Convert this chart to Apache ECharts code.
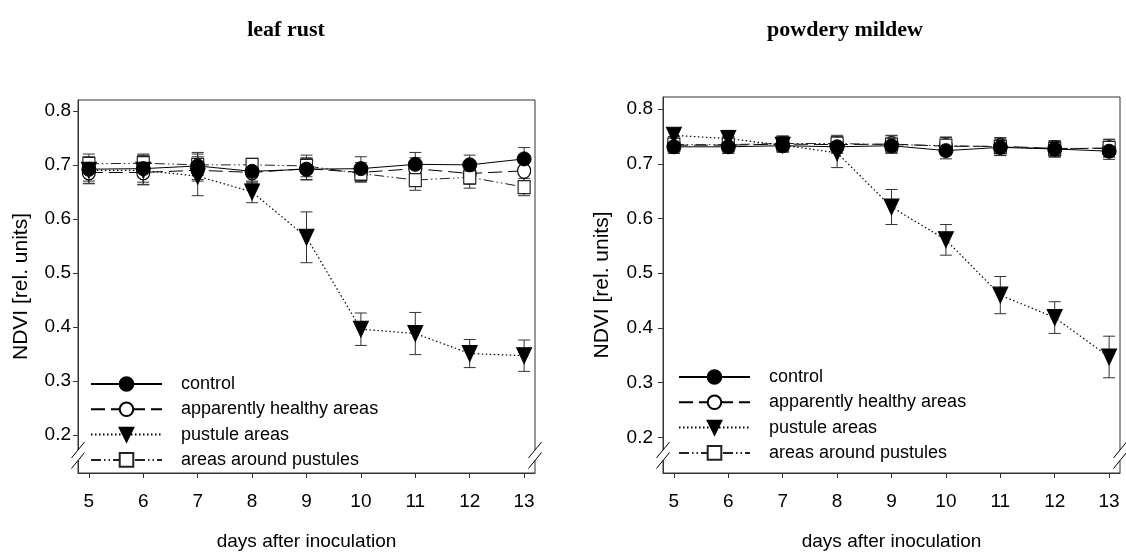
<!DOCTYPE html>
<html><head><meta charset="utf-8">
<script src="https://cdn.jsdelivr.net/npm/echarts@6/dist/echarts.min.js"></script>
<style>html,body{margin:0;padding:0;background:#fff}#c{width:1126px;height:556px}</style>
</head><body><div id="c"></div>
<script>
// ---------- data ----------
const days = [5, 6, 7, 8, 9, 10, 11, 12, 13];
const yTicks = [0.2, 0.3, 0.4, 0.5, 0.6, 0.7, 0.8];
const panelTitles = ['leaf rust', 'powdery mildew'];
const seriesNames = ['control', 'apparently healthy areas', 'pustule areas', 'areas around pustules'];
const xAxisTitle = 'days after inoculation';
const yAxisTitle = 'NDVI [rel. units]';

// leaf rust
const lrControl    = [0.692, 0.693, 0.698, 0.688, 0.692, 0.693, 0.701, 0.700, 0.711];
const lrControlErr = [0.022, 0.025, 0.025, 0.020, 0.020, 0.022, 0.022, 0.018, 0.021];
const lrHealthy    = [0.686, 0.686, 0.690, 0.686, 0.693, 0.686, 0.693, 0.684, 0.689];
const lrHealthyErr = [0.020, 0.022, 0.020, 0.020, 0.020, 0.018, 0.020, 0.020, 0.020];
const lrPustule    = [0.690, 0.690, 0.679, 0.650, 0.566, 0.396, 0.388, 0.351, 0.347];
const lrPustuleErr = [0.025, 0.027, 0.036, 0.020, 0.047, 0.030, 0.039, 0.026, 0.029];
const lrAround     = [0.702, 0.703, 0.700, 0.700, 0.698, 0.684, 0.672, 0.677, 0.659];
const lrAroundErr  = [0.018, 0.017, 0.020, 0.012, 0.020, 0.015, 0.019, 0.020, 0.016];

// powdery mildew
const pmControl    = [0.731, 0.731, 0.733, 0.731, 0.733, 0.724, 0.730, 0.727, 0.723];
const pmControlErr = [0.012, 0.012, 0.012, 0.012, 0.012, 0.015, 0.015, 0.015, 0.015];
const pmHealthy    = [0.734, 0.734, 0.736, 0.735, 0.736, 0.732, 0.732, 0.728, 0.728];
const pmHealthyErr = [0.015, 0.015, 0.014, 0.015, 0.016, 0.016, 0.016, 0.014, 0.016];
const pmPustule    = [0.752, 0.746, 0.734, 0.720, 0.621, 0.561, 0.460, 0.419, 0.347];
const pmPustuleErr = [0.010, 0.015, 0.012, 0.027, 0.032, 0.028, 0.034, 0.029, 0.038];
const pmAround     = [0.735, 0.735, 0.737, 0.737, 0.735, 0.733, 0.731, 0.727, 0.729];
const pmAroundErr  = [0.015, 0.015, 0.014, 0.015, 0.016, 0.016, 0.016, 0.014, 0.016];

const panels = [
  { vals: [lrControl, lrHealthy, lrPustule, lrAround], errs: [lrControlErr, lrHealthyErr, lrPustuleErr, lrAroundErr], yMin: 0.13, yMax: 0.82 },
  { vals: [pmControl, pmHealthy, pmPustule, pmAround], errs: [pmControlErr, pmHealthyErr, pmPustuleErr, pmAroundErr], yMin: 0.135, yMax: 0.822 }
];
const xMin = 4.8, xMax = 13.2;

// ---------- styles ----------
const FONT = 'Liberation Sans, Arial, sans-serif';
const styles = [
  { symbol: 'circle', symbolSize: 14, symbolRotate: 0, itemStyle: { color: '#000', borderColor: '#000', borderWidth: 1 }, lineStyle: { color: '#000', width: 1, type: 'solid' } },
  { symbol: 'circle', symbolSize: [13, 15], symbolRotate: 0, itemStyle: { color: '#fff', borderColor: '#000', borderWidth: 1.2 }, lineStyle: { color: '#000', width: 1, type: [14, 6] } },
  { symbol: 'triangle', symbolSize: [15, 16], symbolRotate: 180, itemStyle: { color: '#000', borderColor: '#000', borderWidth: 1 }, lineStyle: { color: '#000', width: 1.2, type: [1.5, 2.5] } },
  { symbol: 'rect', symbolSize: [12, 13], symbolRotate: 0, itemStyle: { color: '#fff', borderColor: '#222', borderWidth: 1.2 }, lineStyle: { color: '#222', width: 1, type: [10, 3, 1.5, 3, 1.5, 3] } }
];
const drawOrder = [1, 3, 2, 0];

const grids = [
  { left: 78, top: 100, width: 457, height: 378 },
  { left: 663, top: 97, width: 457, height: 380 }
];

function errRender(params, api) {
  const x = api.value(0), lo = api.value(1), hi = api.value(2);
  const a = api.coord([x, lo]), b = api.coord([x, hi]);
  const w = 6;
  const st = { stroke: '#333', lineWidth: 1 };
  return { type: 'group', children: [
    { type: 'line', shape: { x1: a[0], y1: a[1], x2: b[0], y2: b[1] }, style: st },
    { type: 'line', shape: { x1: a[0] - w, y1: a[1], x2: a[0] + w, y2: a[1] }, style: st },
    { type: 'line', shape: { x1: b[0] - w, y1: b[1], x2: b[0] + w, y2: b[1] }, style: st }
  ]};
}

const xAxes = [], yAxes = [], series = [], legends = [];
panels.forEach((p, gi) => {
  xAxes.push({
    gridIndex: gi, type: 'value', min: xMin, max: xMax,
    name: xAxisTitle, nameLocation: 'middle', nameGap: 59,
    nameTextStyle: { fontFamily: FONT, fontSize: 19, color: '#000' },
    axisLine: { show: true, lineStyle: { color: '#333', width: 1 } },
    axisTick: { show: true, length: 5, inside: false, customValues: days, lineStyle: { color: '#333' } },
    axisLabel: { customValues: days, margin: 19, fontFamily: FONT, fontSize: 19, color: '#000', formatter: v => String(Math.round(v)) },
    splitLine: { show: false }
  });
  yAxes.push({
    gridIndex: gi, type: 'value', min: p.yMin, max: p.yMax,
    name: yAxisTitle, nameLocation: 'middle', nameGap: gi === 0 ? 46 : 50, nameRotate: 90,
    nameTextStyle: { fontFamily: FONT, fontSize: 21, color: '#000' },
    axisLine: { show: true, lineStyle: { color: '#333', width: 1 } },
    axisTick: { show: true, length: 5, inside: false, customValues: yTicks, lineStyle: { color: '#333' } },
    axisLabel: { customValues: yTicks, margin: gi === 0 ? 7 : 10, fontFamily: FONT, fontSize: 19, color: '#000', formatter: v => v.toFixed(1) },
    splitLine: { show: false }
  });
  drawOrder.forEach(si => {
    series.push({
      type: 'custom', name: 'err' + gi + '_' + si, xAxisIndex: gi, yAxisIndex: gi,
      renderItem: errRender, encode: { x: 0, y: [1, 2] }, silent: true, z: 1,
      data: days.map((d, i) => [d, p.vals[si][i] - p.errs[si][i], p.vals[si][i] + p.errs[si][i]])
    });
  });
  drawOrder.forEach(si => {
    const s = styles[si];
    series.push({
      type: 'line', name: seriesNames[si], xAxisIndex: gi, yAxisIndex: gi,
      symbol: s.symbol, symbolSize: s.symbolSize, symbolRotate: s.symbolRotate,
      showAllSymbol: true, z: 3,
      itemStyle: s.itemStyle, lineStyle: s.lineStyle,
      emphasis: { disabled: true }, animation: false,
      data: days.map((d, i) => [d, p.vals[si][i]])
    });
  });
  legends.push({
    orient: 'vertical', left: gi === 0 ? 90 : 678, top: gi === 0 ? 375 : 368, padding: 0,
    itemWidth: 71, itemHeight: 17, itemGap: 7.3,
    data: seriesNames, selectedMode: false,
    textStyle: { fontFamily: FONT, fontSize: 18, lineHeight: 17, color: '#000', padding: [0, 0, 0, 14] }
  });
});

const chart = echarts.init(document.getElementById('c'), null, { renderer: 'canvas' });
chart.setOption({
  backgroundColor: '#fff',
  animation: false,
  grid: grids.map(g => Object.assign({ show: true, borderColor: '#333', borderWidth: 1, backgroundColor: 'transparent' }, g)),
  xAxis: xAxes, yAxis: yAxes, legend: legends, series: series
});

// titles + axis break marks
const gfx = [];
const titleX = [286, 845];
panelTitles.forEach((t, gi) => {
  gfx.push({ type: 'text', x: titleX[gi], y: 30, style: { text: t, fontFamily: 'Liberation Serif, Times New Roman, serif', fontWeight: 'bold', fontSize: 22, fill: '#000', align: 'center', verticalAlign: 'middle' } });
});
panels.forEach((p, gi) => {
  const pl = chart.convertToPixel({ gridIndex: gi }, [xMin, p.yMin]);
  const pr = chart.convertToPixel({ gridIndex: gi }, [xMax, p.yMin]);
  [pl[0], pr[0]].forEach(x => {
    const y1 = pl[1] - 23, y2 = pl[1] - 12.5;
    gfx.push({ type: 'rect', z: 100, shape: { x: x - 2, y: y1, width: 4, height: y2 - y1 }, style: { fill: '#fff' } });
    [y1, y2].forEach(yc => gfx.push({ type: 'line', z: 101, shape: { x1: x + 6.5, y1: yc - 8, x2: x - 6.5, y2: yc + 8 }, style: { stroke: '#000', lineWidth: 1 } }));
  });
});
chart.setOption({ graphic: gfx });
</script>
</body></html>
